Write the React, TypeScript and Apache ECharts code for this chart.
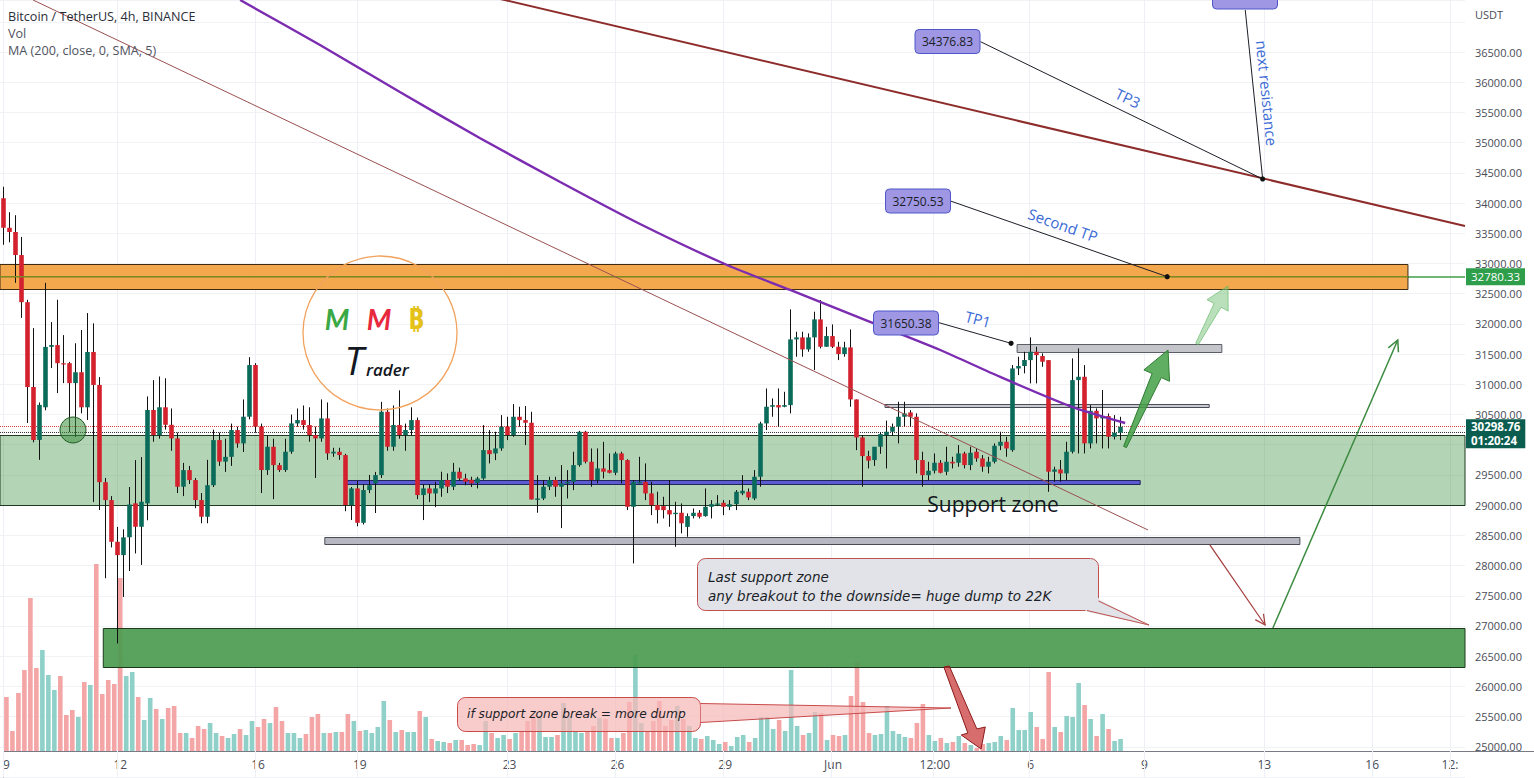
import React, { useEffect, useRef } from "react";
import * as echarts from "echarts";

// ---------- DATA ----------
const SLOTS = 244; // 4h slots shown on the time axis (history + blank future)

// 4h candles from 9 May: [open, high, low, close]
const candles: number[][] = [
  [34080, 34270, 33310, 33590], [33590, 33850, 33350, 33520], [33520, 33800, 32680, 33140], [33140, 33440, 32100, 32360],
  [32360, 32400, 30360, 30955], [30955, 31930, 30040, 30080], [30080, 30700, 29750, 30660], [30620, 32680, 30570, 31620],
  [31620, 32030, 31270, 31650], [31650, 32400, 30855, 31350], [31350, 31815, 31020, 31330], [31350, 31370, 30210, 31020],
  [31020, 31680, 30130, 31200], [31200, 31900, 30520, 30620], [30620, 32180, 30410, 31535], [31535, 32010, 29050, 30990],
  [30990, 31120, 28920, 29380], [29380, 29450, 27790, 29084], [29084, 29150, 28300, 28394], [28394, 28640, 26710, 28173],
  [28173, 28600, 27480, 28467], [28467, 29300, 27910, 29010], [29030, 29746, 28200, 28642], [28642, 29796, 28010, 29056],
  [29030, 30800, 28750, 30575], [30575, 31070, 30050, 30160], [30160, 31130, 30100, 30620], [30620, 31100, 30250, 30330],
  [30330, 30600, 29900, 30105], [30105, 30200, 29200, 29305], [29305, 29700, 29150, 29580], [29580, 29650, 29350, 29415],
  [29415, 29450, 28950, 29084], [29084, 29200, 28700, 28808], [28808, 29750, 28700, 29330], [29330, 30250, 29300, 30077],
  [30077, 30200, 29650, 29720], [29720, 30100, 29550, 29800], [29800, 30350, 29650, 30243], [30243, 30300, 29950, 30022],
  [30022, 30750, 29880, 30464], [30464, 31450, 30420, 31319], [31319, 31350, 30200, 30300], [30300, 30350, 29200, 29581],
  [29581, 30150, 29500, 29967], [29967, 30100, 29100, 29663], [29663, 29700, 29550, 29581], [29581, 30100, 29550, 29884],
  [29884, 30500, 29850, 30353], [30353, 30600, 30300, 30408], [30408, 30650, 30250, 30326], [30326, 30620, 30050, 30160],
  [30160, 30300, 29450, 30105], [30105, 30750, 30050, 30436], [30436, 30700, 29750, 29856], [29856, 29950, 29800, 29884],
  [29884, 29950, 29750, 29829], [29829, 29850, 28900, 29001], [29001, 29300, 28753, 29277], [29277, 29400, 28650, 28708],
  [28708, 29350, 28680, 29250], [29250, 29500, 29200, 29330], [29360, 29550, 28870, 29498], [29498, 30710, 29450, 30546],
  [30546, 30600, 29900, 29967], [29967, 30650, 29900, 30326], [30326, 30900, 30100, 30160], [30160, 30350, 29900, 30243],
  [30243, 30620, 30150, 30408], [30408, 30450, 29100, 29167], [29167, 29350, 28753, 29277], [29277, 29350, 29050, 29194],
  [29194, 29387, 28968, 29277], [29277, 29553, 29139, 29415], [29415, 29525, 29200, 29305], [29305, 29700, 29250, 29553],
  [29553, 29620, 29400, 29442], [29442, 29520, 29330, 29387], [29420, 29470, 29300, 29360], [29370, 29470, 29277, 29442],
  [29442, 30325, 29420, 29911], [29911, 30243, 29691, 29845], [29856, 30215, 29746, 29939], [29939, 30491, 29900, 30298],
  [30298, 30463, 30077, 30160], [30160, 30673, 30132, 30463], [30463, 30629, 30298, 30408], [30408, 30640, 29994, 30364],
  [30364, 30546, 29094, 29094], [29094, 29497, 28874, 29111], [29111, 29415, 29083, 29305], [29305, 29470, 29250, 29415],
  [29415, 29470, 29139, 29305], [29305, 29663, 28620, 29360], [29360, 29580, 29111, 29387], [29387, 29884, 29249, 29663],
  [29663, 30230, 29636, 30215], [30215, 30230, 29691, 29718], [29718, 29939, 29305, 29415], [29415, 29939, 29360, 29608],
  [29608, 30049, 29442, 29553], [29580, 29856, 29525, 29536], [29536, 29884, 29497, 29856], [29856, 29884, 29360, 29746],
  [29746, 29760, 28918, 28973], [28973, 29415, 28035, 29387], [29380, 29801, 29360, 29387], [29387, 29691, 29083, 29194],
  [29194, 29387, 28835, 29001], [29001, 29222, 28697, 28918], [28984, 29139, 28780, 28918], [28918, 29415, 28642, 28846],
  [28852, 29056, 28311, 28874], [28874, 29028, 28532, 28700], [28640, 28863, 28476, 28819], [28819, 28945, 28780, 28874],
  [28874, 28918, 28780, 28808], [28819, 29277, 28808, 28973], [28973, 29083, 28780, 29017], [29017, 29166, 28984, 29028],
  [29039, 29083, 28835, 28973], [28973, 29083, 28918, 29017], [29017, 29249, 28918, 29222], [29194, 29497, 29166, 29238],
  [29222, 29277, 29083, 29128], [29111, 29580, 29083, 29470], [29470, 30381, 29305, 30353], [30353, 30932, 30243, 30629],
  [30629, 30767, 30463, 30656], [30656, 30932, 30298, 30618], [30629, 30877, 30620, 30656], [30656, 32240, 30518, 31744],
  [31744, 31871, 31457, 31777], [31777, 31871, 31457, 31578], [31578, 31843, 31539, 31777], [31777, 32202, 31236, 32075],
  [32075, 32395, 31595, 31622], [31622, 31953, 31622, 31799], [31799, 31992, 31600, 31622], [31622, 31705, 31401, 31501],
  [31501, 31705, 31457, 31611], [31611, 31909, 30629, 30750], [30750, 30750, 29911, 30121], [30121, 30160, 29305, 29812],
  [29812, 29900, 29608, 29736], [29746, 29800, 29650, 29967], [29967, 30200, 29850, 30176], [30160, 30400, 29608, 30215],
  [30215, 30350, 30150, 30298], [30298, 30712, 30022, 30463], [30463, 30712, 30300, 30518], [30535, 30574, 30300, 30463],
  [30463, 30520, 29525, 29746], [29746, 29884, 29305, 29497], [29497, 29718, 29415, 29569], [29569, 29856, 29525, 29702],
  [29702, 29746, 29525, 29536], [29553, 29967, 29497, 29718], [29718, 29801, 29608, 29691], [29702, 29994, 29636, 29856],
  [29856, 29884, 29608, 29663], [29663, 29967, 29580, 29867], [29884, 29939, 29718, 29773], [29773, 29829, 29553, 29636],
  [29636, 29801, 29525, 29718], [29718, 30022, 29691, 29983], [29983, 30215, 29911, 30049], [30049, 30132, 29801, 29939],
  [29911, 31319, 29884, 31263], [31263, 31457, 31153, 31302], [31302, 31539, 31181, 31401], [31401, 31777, 31015, 31539],
  [31539, 31622, 31015, 31484], [31468, 31512, 31291, 31374], [31401, 31401, 29221, 29553], [29553, 29636, 29387, 29591],
  [29591, 29746, 29387, 29525], [29525, 30049, 29415, 29884], [29884, 31429, 29856, 31070], [31070, 31595, 29856, 31125],
  [31125, 31318, 29856, 30022], [30022, 30656, 29939, 30562], [30562, 30601, 30022, 30436], [30436, 30905, 29939, 30474],
  [30474, 30518, 29939, 30132], [30132, 30491, 30088, 30199], [30199, 30463, 30077, 30298.76],
];

// volume per candle (relative units)
const volumes: number[] = [
  54, 20, 58, 81, 153, 83, 101, 76, 61, 75, 36, 41, 34, 69, 66, 187, 57, 71, 67, 173,
  75, 79, 54, 31, 53, 42, 32, 43, 45, 18, 18, 13, 25, 22, 28, 18, 15, 13, 17, 22,
  16, 30, 24, 32, 28, 44, 30, 18, 18, 13, 17, 34, 37, 18, 18, 19, 19, 37, 30, 20,
  21, 18, 24, 50, 31, 19, 21, 19, 19, 40, 34, 12, 10, 9, 8, 11, 11, 6, 7, 6,
  30, 18, 13, 16, 12, 18, 20, 30, 36, 35, 14, 14, 16, 48, 35, 19, 18, 19, 25, 33,
  32, 13, 13, 18, 49, 96, 28, 19, 30, 50, 25, 31, 45, 32, 25, 13, 12, 15, 11, 7,
  9, 5, 14, 16, 9, 13, 34, 34, 22, 31, 20, 81, 25, 16, 18, 39, 38, 11, 16, 15,
  16, 55, 89, 49, 18, 16, 17, 45, 20, 17, 14, 13, 28, 47, 16, 10, 13, 8, 9, 15,
  8, 6, 3, 7, 8, 9, 15, 11, 43, 21, 21, 39, 24, 12, 79, 24, 19, 35, 34, 68,
  46, 32, 15, 37, 22, 10, 12,
];

// time-axis labels (slot index -> text)
const xTickIndex = [0, 19, 42, 59, 84, 102, 120, 138, 155, 171, 190, 210, 228, 241];
const xTickText = ["9", "12", "16", "19", "23", "26", "29", "Jun", "12:00", "6", "9", "13", "16", "12:"];

// price axis
const priceMin = 24500;
const priceMax = 37362;
const priceStep = 500;
const priceTicks = [25000, 25500, 26000, 26500, 27000, 27500, 28000, 28500, 29000, 29500, 30500, 31000, 31500,
  32000, 32500, 33000, 33500, 34000, 34500, 35000, 35500, 36000, 36500];

const lastPrice = 30298.76;
const countdown = "01:20:24";
const prevLevel = 30211;
const keyLevel = 32780.33;

// MA(200) sampled along the curve: slot index / price
const maIndex = [39.5, 52.8, 66.1, 79.4, 92.8, 106.1, 120.6, 131.1, 144.4, 156.1, 166.1, 177.7, 186.9];
const maValue = [37362, 36617, 35839, 35078, 34349, 33654, 32975, 32562, 32032, 31568, 31122, 30641, 30360];

// drawn zones: slot range & price range
const zoneKind = ["resistance", "support", "lastSupport", "grayLow", "grayMid", "grayHigh", "purple"];
const zoneFrom = [-0.5, -0.5, 16.7, 53.6, 146.9, 168.9, 57.0];
const zoneTo = [234.0, 243.5, 243.5, 216.0, 200.9, 203.0, 189.4];
const zoneTop = [32984, 30160, 26965, 28478, 30670, 31668, 29416];
const zoneBottom = [32570, 29001, 26320, 28369, 30613, 31540, 29345];

// drawn segments
const segKind = ["levelInside", "trend", "resistanceLine", "connector", "connector", "connector", "connector", "arrowUp", "arrowDown"];
const segX1 = [-0.5, 5.0, 82.8, 162.8, 206.9, 157.8, 155.9, 211.5, 201.0];
const segP1 = [keyLevel, 37362, 37379, 36672, 37196, 34035, 32020, 26967, 28341];
const segX2 = [234.0, 190.7, 243.5, 209.8, 209.8, 193.9, 167.9, 232.3, 210.2];
const segP2 = [keyLevel, 28589, 33621, 34399, 34399, 32782, 31679, 31734, 27016];

// target dots
const dotX = [209.8, 193.9, 167.9];
const dotP = [34399, 32782, 31679];

// fat arrows: vertices (slot index, price)
const fatKind = ["bullDark", "bullLight", "bear"];
const fatPoints: number[][][] = [
  [[186.64, 29973], [191.39, 31178], [190.02, 31239], [194.04, 31568], [194.29, 31050], [192.92, 31112], [187.11, 29953]],
  [[198.65, 31680], [201.71, 32338], [200.53, 32401], [204.03, 32628], [204.06, 32212], [202.88, 32275], [199.08, 31656]],
  [[156.7, 26321], [160.7, 25228], [159.6, 25195], [162.9, 24964], [163.6, 25328], [162.2, 25295], [157.6, 26338]],
];

// ---------- STYLE ----------
const FONT = '"Open Sans", "Noto Sans", sans-serif';
const NOTE_FONT = '"DejaVu Sans", Verdana, sans-serif';
const UP = "#0b6b5b";
const DOWN = "#d3222e";
const VOL_UP = "#8fd0c9";
const VOL_DOWN = "#f4a6a6";
const TEXT = "#4a4d57";

const zoneStyle: Record<string, any> = {
  resistance: { fill: "rgba(243,156,53,0.88)", stroke: "#3e2a10", lineWidth: 1 },
  support: { fill: "rgba(56,142,60,0.38)", stroke: "#1f3a22", lineWidth: 1 },
  lastSupport: { fill: "rgba(76,155,80,0.92)", stroke: "#1b3a1c", lineWidth: 1 },
  grayLow: { fill: "#b5b8c0", stroke: "#4a4d57", lineWidth: 1 },
  grayMid: { fill: "#c9cbd1", stroke: "#4a4d57", lineWidth: 1 },
  grayHigh: { fill: "#c3c5cb", stroke: "#5a5d66", lineWidth: 1 },
  purple: { fill: "#5a5ccf", stroke: "#24245e", lineWidth: 1 },
};
const segStyle: Record<string, any> = {
  levelInside: { color: "#7c8a25", width: 1.5 },
  trend: { color: "#9a5050", width: 1 },
  resistanceLine: { color: "#8e2b2b", width: 2 },
  connector: { color: "#1b1e27", width: 1 },
  arrowUp: { color: "#3d8b40", width: 1.5, head: 11 },
  arrowDown: { color: "#a33a3a", width: 1.2, head: 10 },
};
const fatStyle: Record<string, any> = {
  bullDark: { fill: "rgba(67,160,71,0.85)", stroke: "#2e7d32", lineWidth: 1 },
  bullLight: { fill: "rgba(129,199,132,0.55)", stroke: "rgba(76,175,80,0.55)", lineWidth: 1 },
  bear: { fill: "rgba(198,40,40,0.68)", stroke: "#8b1a1a", lineWidth: 1 },
};

function txt(x: number, y: number, text: string, font: string, fill: string, align = "left", rotation = 0) {
  return {
    type: "text", x, y, rotation, z: 100, silent: true,
    style: { text, font, fill, align, verticalAlign: "middle", textAlign: align, textVerticalAlign: "middle" },
  };
}
function priceTag(x: number, y: number, w: number, h: number, text?: string) {
  const els: any[] = [{
    type: "rect", z: 100, silent: true, shape: { x, y, width: w, height: h, r: 4 },
    style: { fill: "#9f97e3", stroke: "#4f57c9", lineWidth: 1 },
  }];
  if (text) els.push(txt(x + w / 2, y + h / 2, text, `12px ${FONT}`, "#1b1e27", "center"));
  return els;
}

function buildOption() {
  const categories = Array.from({ length: SLOTS }, (_, i) => String(i));
  const candleData = candles.map((c, i) => [i, c[0], c[1], c[2], c[3]]);
  const volData = volumes.map((v, i) => ({
    value: v,
    itemStyle: { color: candles[i][3] >= candles[i][0] ? VOL_UP : VOL_DOWN },
  }));

  const graphics: any[] = [
    txt(8, 16, "Bitcoin / TetherUS, 4h, BINANCE", `12.6px ${FONT}`, "#2a2e39"),
    txt(8, 33, "Vol", `12.6px ${FONT}`, "#50535e"),
    txt(8, 50, "MA (200, close, 0, SMA, 5)", `12.6px ${FONT}`, "#50535e"),
    txt(1475, 14, "USDT", `11px ${FONT}`, TEXT),
    { type: "line", z: 100, silent: true, shape: { x1: 1465, y1: 751.5, x2: 1534, y2: 751.5 }, style: { stroke: "#787b86", lineWidth: 1 } },
    // logo
    { type: "circle", z: 100, silent: true, shape: { cx: 380, cy: 333, r: 77 }, style: { fill: "transparent", stroke: "#f2a25c", lineWidth: 1.3 } },
    txt(337, 319, "M", `italic bold 28px Lato, ${FONT}`, "#3aa845", "center"),
    txt(379, 319, "M", `italic bold 28px Lato, ${FONT}`, "#e8283c", "center"),
    txt(416, 318, "₿", `bold 28px "Noto Sans", "DejaVu Sans", sans-serif`, "#e4c21a", "center"),
    txt(354, 360, "T", `italic 38px ${FONT}`, "#131722", "center"),
    txt(366, 369, "rader", `italic 600 17px ${FONT}`, "#131722"),
    // small circle
    { type: "circle", z: 100, silent: true, shape: { cx: 73, cy: 430, r: 13 }, style: { fill: "rgba(56,142,60,0.55)", stroke: "#1e5b20", lineWidth: 1 } },
    // support zone label
    txt(993, 504, "Support zone", `21px ${FONT}`, "#131722", "center"),
    // price tags
    ...priceTag(915, 29.5, 65, 24, "34376.83"),
    ...priceTag(885.5, 189, 65, 24, "32750.53"),
    ...priceTag(873.5, 311, 65, 24, "31650.38"),
    ...priceTag(1212.5, -15, 65, 24),
    // rotated captions
    txt(1128, 98, "TP3", `15px ${FONT}`, "#3a6ad6", "center", -0.45),
    txt(1063, 225, "Second TP", `15px ${FONT}`, "#3a6ad6", "center", -0.34),
    txt(978, 319, "TP1", `15px ${FONT}`, "#3a6ad6", "center", -0.26),
    txt(1267, 93, "next resistance", `15px ${FONT}`, "#3a6ad6", "center", -1.47),
    // last support callout
    { type: "rect", z: 100, silent: true, shape: { x: 697.5, y: 558.5, width: 401, height: 52, r: 8 }, style: { fill: "#e1e3e9", stroke: "#c0504d", lineWidth: 1 } },
    { type: "polygon", z: 101, silent: true, shape: { points: [[1083, 609], [1097, 596], [1100, 600], [1149, 625], [1088, 612]] }, style: { fill: "#e1e3e9" } },
    { type: "polyline", z: 101, silent: true, shape: { points: [[1087, 610.5], [1149, 625], [1098.5, 601]] }, style: { stroke: "#c0504d", lineWidth: 1, fill: null } },
    txt(708, 577, "Last support zone", `oblique 13.5px ${NOTE_FONT}`, "#1b1e27"),
    txt(708, 596, "any breakout to the downside= huge dump to 22K", `oblique 13.5px ${NOTE_FONT}`, "#1b1e27"),
    // more dump callout
    { type: "rect", z: 100, silent: true, shape: { x: 457.5, y: 697.5, width: 243, height: 34, r: 8 }, style: { fill: "rgba(247,185,185,0.72)", stroke: "#c84b4b", lineWidth: 1 } },
    { type: "polygon", z: 100, silent: true, shape: { points: [[700.5, 703.5], [951, 708], [700.5, 722.5]] }, style: { fill: "rgba(247,185,185,0.72)" } },
    { type: "polyline", z: 101, silent: true, shape: { points: [[700.5, 703.5], [951, 708], [700.5, 722.5]] }, style: { stroke: "#c84b4b", lineWidth: 1, fill: null } },
    txt(467, 714, "if support zone break = more dump", `oblique 12.2px ${NOTE_FONT}`, "#1b1e27"),
  ];

  const gridLines = xTickIndex.map((i) => ({
    xAxis: i, lineStyle: { color: "#eef0f5", width: 1, type: "solid" }, label: { show: false },
  }));

  return {
    animation: false,
    backgroundColor: "#ffffff",
    textStyle: { fontFamily: FONT },
    grid: [
      { left: 0, right: 69, top: 0, bottom: 1 },
      { left: 0, right: 69, top: 551, bottom: 27 },
    ],
    xAxis: [
      { type: "category", gridIndex: 0, data: categories, show: false, boundaryGap: true },
      { type: "value", gridIndex: 0, min: -0.5, max: SLOTS - 0.5, show: false },
      {
        type: "category", gridIndex: 1, data: categories, boundaryGap: true,
        axisLine: { show: true, lineStyle: { color: "#787b86" } },
        axisTick: { show: false }, splitLine: { show: false },
        axisLabel: {
          show: true, color: TEXT, fontSize: 12, margin: 7, fontFamily: FONT, hideOverlap: false,
          interval: (i: number) => xTickIndex.includes(i),
          formatter: (v: string) => { const k = xTickIndex.indexOf(Number(v)); return k >= 0 ? xTickText[k] : ""; },
        },
      },
    ],
    yAxis: [
      {
        type: "value", gridIndex: 0, position: "right", min: priceMin, max: priceMax, interval: priceStep,
        axisLine: { show: true, lineStyle: { color: "#9598a1" } }, axisTick: { show: false },
        splitLine: { show: true, lineStyle: { color: "#f0f2f6" } },
        axisLabel: {
          margin: 10, color: TEXT, fontSize: 11, fontFamily: FONT,
          formatter: (v: number) => (priceTicks.includes(v) ? v.toFixed(2) : ""),
        },
      },
      { type: "value", gridIndex: 1, min: 0, max: 200, show: false },
    ],
    series: [
      {
        name: "levels", type: "line", xAxisIndex: 1, yAxisIndex: 0, data: [], z: 1, silent: true,
        markLine: {
          z: 1, silent: true, symbol: ["none", "none"], animation: false,
          data: [
            ...gridLines,
            {
              yAxis: keyLevel, lineStyle: { color: "#3f9f4a", width: 1.5, type: "solid" },
              label: {
                show: true, position: "end", distance: 1, formatter: keyLevel.toFixed(2), color: "#fff",
                backgroundColor: "#2e9e4a", padding: [3, 5, 2, 5], fontSize: 11.5, fontFamily: FONT,
              },
            },
            {
              yAxis: lastPrice, lineStyle: { color: "#e0403c", width: 1, type: "dotted" },
              label: {
                show: true, position: "end", distance: 1, offset: [0, 7],
                formatter: `${lastPrice.toFixed(2)}\n${countdown}`,
                color: "#fff", backgroundColor: "#0b5e4f", padding: [1, 5, 1, 5], fontSize: 11.5,
                fontWeight: "bold", lineHeight: 13.5, fontFamily: FONT,
              },
            },
            { yAxis: prevLevel, lineStyle: { color: "#333", width: 1, type: "dotted" }, label: { show: false } },
          ],
        },
      },
      {
        name: "Vol", type: "bar", xAxisIndex: 2, yAxisIndex: 1, data: volData, barWidth: 4.6, z: 2, silent: true,
      },
      {
        name: "zones", type: "custom", xAxisIndex: 1, yAxisIndex: 0, z: 3, silent: true,
        data: zoneKind.map((_, i) => [zoneFrom[i], zoneTop[i]]),
        renderItem: (params: any, api: any) => {
          const i = params.dataIndex;
          const a = api.coord([zoneFrom[i], zoneTop[i]]);
          const b = api.coord([zoneTo[i], zoneBottom[i]]);
          return {
            type: "rect",
            shape: { x: a[0], y: Math.round(a[1]) + 0.5, width: b[0] - a[0], height: Math.round(b[1] - a[1]) },
            style: zoneStyle[zoneKind[i]],
          };
        },
      },
      {
        name: "BTCUSDT", type: "custom", xAxisIndex: 0, yAxisIndex: 0, z: 4, silent: true,
        data: candleData,
        encode: { x: 0, y: [1, 2, 3, 4] },
        renderItem: (params: any, api: any) => {
          const i = api.value(0);
          const o = api.value(1), h = api.value(2), l = api.value(3), c = api.value(4);
          const po = api.coord([i, o]);
          const yc = api.coord([i, c])[1];
          const yh = api.coord([i, h])[1];
          const yl = api.coord([i, l])[1];
          const xs = Math.round(po[0]) + 0.5;
          const bw = 4.6;
          const top = Math.min(po[1], yc);
          return {
            type: "group",
            children: [
              { type: "line", shape: { x1: xs, y1: yh, x2: xs, y2: yl }, style: { stroke: "#111", lineWidth: 1 } },
              {
                type: "rect",
                shape: { x: xs - bw / 2, y: top, width: bw, height: Math.max(1.4, Math.abs(po[1] - yc)) },
                style: { fill: c >= o ? UP : DOWN },
              },
            ],
          };
        },
      },
      {
        name: "MA (200, close, 0, SMA, 5)", type: "line", xAxisIndex: 1, yAxisIndex: 0, z: 5, silent: true,
        data: maIndex.map((x, i) => [x, maValue[i]]), showSymbol: false, smooth: 0.25,
        lineStyle: { color: "#7b2cb0", width: 2.4 },
      },
      {
        name: "segments", type: "custom", xAxisIndex: 1, yAxisIndex: 0, z: 5, silent: true,
        data: segKind.map((_, i) => [segX1[i], segP1[i]]),
        renderItem: (params: any, api: any) => {
          const i = params.dataIndex;
          const st = segStyle[segKind[i]];
          const a = api.coord([segX1[i], segP1[i]]);
          const b = api.coord([segX2[i], segP2[i]]);
          const children: any[] = [
            { type: "line", shape: { x1: a[0], y1: a[1], x2: b[0], y2: b[1] }, style: { stroke: st.color, lineWidth: st.width } },
          ];
          if (st.head) {
            const dx = b[0] - a[0], dy = b[1] - a[1];
            const len = Math.hypot(dx, dy);
            const ux = dx / len, uy = dy / len;
            const bx = b[0] - ux * st.head, by = b[1] - uy * st.head;
            const hw = st.head * 0.5;
            children.push({
              type: "polyline",
              shape: { points: [[bx - uy * hw, by + ux * hw], [b[0], b[1]], [bx + uy * hw, by - ux * hw]] },
              style: { stroke: st.color, lineWidth: st.width, fill: null },
            });
          }
          return { type: "group", children };
        },
      },
      {
        name: "arrows", type: "custom", xAxisIndex: 1, yAxisIndex: 0, z: 5, silent: true,
        data: fatKind.map((_, i) => fatPoints[i][0]),
        renderItem: (params: any, api: any) => {
          const i = params.dataIndex;
          return {
            type: "polygon",
            shape: { points: fatPoints[i].map((p) => api.coord(p)) },
            style: fatStyle[fatKind[i]],
          };
        },
      },
      {
        name: "targets", type: "custom", xAxisIndex: 1, yAxisIndex: 0, z: 6, silent: true,
        data: dotX.map((x, i) => [x, dotP[i]]),
        renderItem: (params: any, api: any) => {
          const p = api.coord([api.value(0), api.value(1)]);
          return { type: "circle", shape: { cx: p[0], cy: p[1], r: 2.6 }, style: { fill: "#111" } };
        },
      },
    ],
    graphic: graphics,
  };
}

export default function App() {
  const ref = useRef<HTMLDivElement>(null);
  useEffect(() => {
    document.body.style.margin = "0";
    const chart = echarts.init(ref.current as HTMLDivElement, undefined, { renderer: "svg", width: 1534, height: 778 });
    chart.setOption(buildOption() as any);
    return () => chart.dispose();
  }, []);
  return (
    <div
      ref={ref}
      style={{ position: "fixed", left: 0, top: 0, width: 1534, height: 778, background: "#fff" }}
    />
  );
}
